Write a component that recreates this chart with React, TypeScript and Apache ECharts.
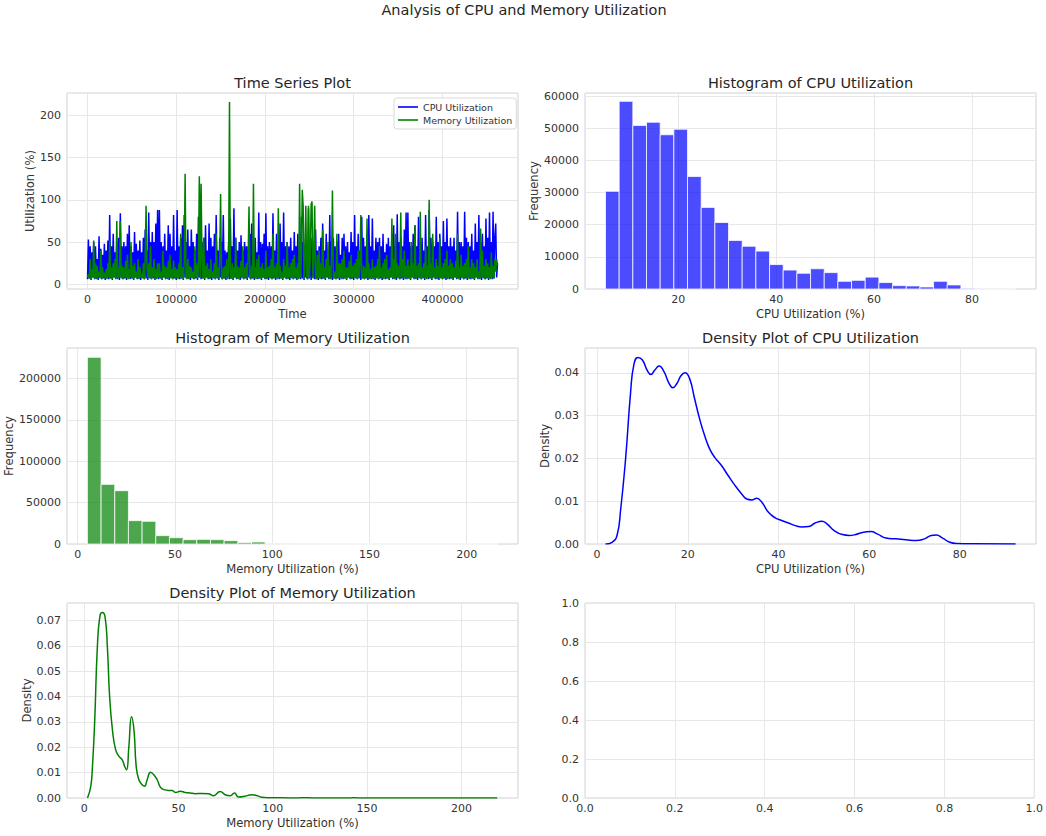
import React, { useEffect, useRef } from "react";
import * as echarts from "echarts";

// ---------- data ----------
const timeStep = 1000;

const cpuUtilization = [
  6, 53, 7, 45, 5, 38, 8, 50, 6, 45, 7, 30, 5, 57, 8, 42, 6, 35, 7, 48,
  5, 40, 8, 52, 6, 82, 7, 45, 5, 60, 8, 38, 6, 50, 7, 55, 5, 84, 8, 45,
  6, 50, 7, 45, 5, 60, 8, 70, 6, 45, 7, 38, 5, 62, 8, 48, 6, 40, 7, 52,
  5, 38, 8, 55, 6, 65, 7, 40, 5, 85, 8, 50, 6, 62, 7, 50, 5, 72, 8, 88,
  6, 88, 7, 50, 5, 45, 8, 60, 6, 40, 7, 70, 5, 60, 8, 45, 6, 82, 7, 40,
  5, 88, 8, 45, 6, 55, 7, 70, 5, 82, 8, 50, 6, 65, 7, 45, 5, 65, 8, 50,
  6, 40, 7, 60, 5, 80, 8, 45, 6, 50, 7, 55, 5, 70, 8, 40, 6, 72, 7, 55,
  5, 45, 8, 60, 6, 82, 7, 40, 5, 55, 8, 50, 6, 82, 7, 40, 5, 38, 8, 50,
  6, 78, 7, 45, 5, 90, 8, 55, 6, 40, 7, 50, 5, 58, 8, 40, 6, 50, 7, 45,
  5, 45, 8, 60, 6, 72, 7, 40, 5, 55, 8, 38, 6, 85, 7, 50, 5, 48, 8, 60,
  6, 84, 7, 45, 5, 50, 8, 45, 6, 84, 7, 40, 5, 60, 8, 38, 6, 72, 7, 50,
  5, 85, 8, 45, 6, 50, 7, 45, 5, 55, 8, 40, 6, 62, 7, 45, 5, 60, 8, 40,
  6, 80, 7, 50, 5, 35, 8, 45, 6, 90, 7, 45, 5, 55, 8, 40, 6, 65, 7, 40,
  5, 45, 8, 55, 6, 72, 7, 40, 5, 60, 8, 38, 6, 82, 7, 50, 5, 55, 8, 45,
  6, 50, 7, 60, 5, 35, 8, 55, 6, 60, 7, 45, 5, 50, 8, 38, 6, 62, 7, 50,
  5, 82, 8, 45, 6, 60, 7, 40, 5, 80, 8, 55, 6, 45, 7, 60, 5, 82, 8, 45,
  6, 78, 7, 40, 5, 55, 8, 50, 6, 55, 7, 45, 5, 60, 8, 38, 6, 48, 7, 55,
  5, 45, 8, 60, 6, 70, 7, 45, 5, 83, 8, 50, 6, 55, 7, 45, 5, 65, 8, 85,
  6, 85, 7, 50, 5, 45, 8, 60, 6, 70, 7, 45, 5, 80, 8, 50, 6, 55, 7, 40,
  5, 82, 8, 45, 6, 88, 7, 55, 5, 50, 8, 45, 6, 80, 7, 50, 5, 60, 8, 45,
  6, 75, 7, 50, 5, 78, 8, 45, 6, 55, 7, 45, 5, 55, 8, 40, 6, 86, 7, 50,
  5, 50, 8, 45, 6, 86, 7, 55, 5, 50, 8, 45, 6, 60, 7, 40, 5, 72, 8, 50,
  6, 82, 7, 50, 5, 60, 8, 45, 6, 78, 7, 55, 5, 85, 8, 50, 6, 86, 7, 55,
  72, 8, 25,
];

const memoryUtilization = [
  8, 12, 7, 30, 6, 18, 8, 52, 7, 25, 6, 22, 8, 15, 7, 40, 6, 20, 8, 14,
  7, 18, 6, 25, 8, 52, 7, 20, 6, 25, 8, 30, 7, 75, 6, 20, 8, 75, 7, 22,
  6, 20, 8, 28, 7, 35, 6, 18, 8, 50, 7, 22, 6, 25, 8, 15, 7, 30, 6, 20,
  8, 12, 7, 25, 6, 30, 93, 20, 8, 25, 7, 45, 6, 20, 8, 30, 7, 18, 6, 25,
  8, 25, 7, 15, 6, 40, 8, 22, 7, 20, 6, 28, 8, 35, 7, 18, 6, 28, 8, 20,
  7, 18, 6, 25, 8, 60, 7, 20, 6, 25, 131, 8, 7, 30, 6, 22, 8, 20, 7, 15,
  6, 45, 8, 25, 7, 20, 128, 8, 119, 30, 7, 55, 6, 22, 8, 25, 7, 18, 6, 30,
  8, 15, 7, 25, 6, 60, 8, 20, 7, 30, 107, 8, 6, 20, 7, 22, 8, 30, 6, 18,
  216, 8, 7, 25, 6, 20, 8, 55, 7, 22, 6, 20, 8, 28, 7, 45, 6, 20, 8, 25,
  7, 30, 92, 8, 6, 22, 8, 119, 7, 20, 6, 30, 8, 35, 7, 20, 6, 25, 8, 18,
  7, 40, 6, 20, 8, 22, 7, 30, 6, 60, 8, 20, 7, 25, 6, 90, 8, 22, 7, 15,
  6, 30, 8, 22, 7, 50, 6, 20, 8, 25, 7, 30, 6, 35, 8, 20, 7, 25, 6, 119,
  8, 30, 112, 93, 7, 30, 93, 8, 6, 93, 8, 30, 95, 98, 7, 30, 93, 8, 6, 35,
  7, 40, 6, 25, 8, 65, 7, 20, 6, 30, 8, 50, 7, 22, 6, 30, 111, 8, 7, 15,
  6, 60, 8, 25, 7, 25, 6, 30, 8, 40, 7, 20, 6, 20, 8, 28, 7, 35, 6, 22,
  8, 25, 7, 30, 6, 40, 8, 20, 82, 8, 7, 22, 6, 20, 8, 78, 7, 25, 6, 18,
  7, 30, 6, 20, 8, 22, 7, 30, 6, 45, 8, 20, 7, 25, 6, 30, 8, 35, 7, 18,
  6, 20, 8, 78, 7, 30, 6, 60, 8, 25, 7, 22, 6, 85, 8, 30, 7, 40, 6, 22,
  8, 30, 7, 22, 6, 50, 8, 25, 7, 70, 6, 22, 8, 25, 7, 86, 6, 20, 8, 25,
  7, 45, 6, 22, 8, 100, 7, 25, 6, 60, 8, 20, 7, 30, 6, 22, 8, 55, 7, 20,
  6, 25, 8, 30, 7, 40, 6, 22, 8, 30, 7, 25, 6, 20, 8, 28, 7, 60, 6, 20,
  8, 35, 7, 22, 6, 25, 8, 30, 7, 45, 6, 20, 8, 30, 7, 25, 6, 20, 8, 30,
  7, 15, 6, 66, 8, 40, 7, 22, 6, 30, 8, 25, 7, 20, 6, 38, 8, 22, 7, 30,
  15, 30, 22,
];

const cpuHistStart = 5.11;
const cpuHistWidth = 2.794;
const cpuHistCounts = [
  30400, 58400, 50900, 51900, 48000, 49700, 35000, 25400, 20700, 15100,
  13300, 11800, 7600, 5900, 4900, 6300, 5100, 2400, 2700, 3700,
  2000, 1050, 950, 630, 2400, 1260, 200, 40, 20, 10,
];

const memHistStart = 5.0;
const memHistWidth = 7.03;
const memHistCounts = [
  225400, 72000, 64400, 28200, 27400, 10100, 7600, 5200, 5600, 5200,
  4000, 1600, 2400, 300, 150, 100, 80, 50, 40, 30,
  20, 15, 10, 10, 5, 5, 5, 3, 2, 1,
];

const cpuDensityX = [
  1.86, 3.3, 4.4, 5.2, 6.3, 7.4, 8.1, 9.0, 10.0, 11.1, 11.9, 12.7, 13.7, 14.7, 15.9,
  16.7, 17.6, 18.5, 19.4, 20.4, 21.5, 22.6, 23.7, 24.8, 25.9, 27.4, 28.9, 30.4, 31.9,
  33.0, 34.1, 35.2, 36.3, 37.8, 39.3, 40.7, 42.2, 43.7, 45.2, 46.7, 48.1, 49.6, 50.7,
  52.2, 54.1, 55.6, 57.0, 58.5, 60.4, 61.9, 63.7, 65.9, 68.1, 70.4, 72.2, 73.7, 74.8,
  76.3, 77.8, 79.3, 83.0, 92.3,
];
const cpuDensityY = [
  0, 0.0004, 0.002, 0.008, 0.02, 0.0355, 0.0418, 0.0436, 0.043, 0.0405, 0.0396, 0.0406,
  0.0416, 0.0404, 0.0375, 0.0365, 0.0375, 0.0393, 0.04, 0.0387, 0.034, 0.0293, 0.0254,
  0.0223, 0.0203, 0.0184, 0.016, 0.0137, 0.0117, 0.0105, 0.0103, 0.0107, 0.0098, 0.0074,
  0.0061, 0.0055, 0.0049, 0.0043, 0.004, 0.0041, 0.0049, 0.0053, 0.0047, 0.0032, 0.0022,
  0.002, 0.0022, 0.0027, 0.0029, 0.0023, 0.0014, 0.0012, 0.001, 0.0008, 0.0012, 0.002,
  0.0021, 0.0013, 0.0004, 0.0001, 0.00003, 0,
];

const memDensityX = [
  1.76, 3.5, 4.4, 5.6, 7.0, 8.4, 9.7, 11.1, 12.3, 13.5, 15.0, 16.7, 18.5, 20.2, 21.6,
  22.5, 23.7, 25.1, 26.4, 27.6, 29.0, 30.8, 32.0, 33.4, 35.2, 36.9, 38.7, 40.4, 42.2,
  44.8, 46.6, 48.4, 51.0, 53.6, 56.3, 58.9, 62.4, 65.9, 68.6, 72.1, 74.7, 77.4, 79.7,
  81.8, 85.3, 88.8, 91.4, 94.1, 97.6, 105, 113, 117, 121, 135, 141.5, 143, 145, 160,
  190, 219,
];
const memDensityY = [
  0, 0.0046, 0.0124, 0.0308, 0.0596, 0.072, 0.0732, 0.0713, 0.0596, 0.04, 0.0268, 0.019,
  0.0164, 0.015, 0.0122, 0.0111, 0.0203, 0.032, 0.0268, 0.0124, 0.0072, 0.0052, 0.0046,
  0.0072, 0.0102, 0.0092, 0.0072, 0.0043, 0.0033, 0.003, 0.003, 0.0022, 0.0027, 0.0022,
  0.002, 0.0017, 0.0018, 0.0017, 0.0009, 0.0026, 0.0013, 0.0009, 0.002, 0.0004, 0.0007,
  0.0013, 0.001, 0.0003, 0.0001, 0.00005, 0.00003, 0.0001, 0.00003, 0.00002, 0.00002,
  0.0001, 0.00002, 0.00001, 0.00001, 0,
];

// ---------- styling ----------
const FONT = "DejaVu Sans";
const TXT = "#333333";
const TITLE = "#262626";
const GRIDLINE = "#e7e7e7";
const BORDER = "#d3d3d3";
const BLUE = "#0000ff";
const GREEN = "#008000";

const grids = [
  { left: 67, top: 93, width: 451, height: 196 },
  { left: 585, top: 93, width: 451, height: 196 },
  { left: 67, top: 348, width: 451, height: 196 },
  { left: 585, top: 348, width: 451, height: 196 },
  { left: 67, top: 603, width: 451, height: 195 },
  { left: 585, top: 603, width: 451, height: 195 },
];

const plain = (v: number) => String(v);

function axis(
  gridIndex: number,
  min: number,
  max: number,
  o: {
    name?: string;
    nameGap?: number;
    interval?: number;
    fmt?: (v: number) => string;
    showMin?: boolean;
    showMax?: boolean;
    vertical?: boolean;
  }
) {
  const a: any = {
    type: "value",
    gridIndex,
    min,
    max,
    axisLine: { show: false },
    axisTick: { show: false },
    splitLine: { show: true, lineStyle: { color: GRIDLINE, width: 1 } },
    axisLabel: {
      color: TXT,
      fontSize: 11,
      fontFamily: FONT,
      margin: o.vertical ? 6 : 5,
      showMinLabel: !!o.showMin,
      showMaxLabel: !!o.showMax,
      formatter: o.fmt || plain,
    },
  };
  if (o.interval !== undefined) a.interval = o.interval;
  if (o.name) {
    a.name = o.name;
    a.nameLocation = "middle";
    a.nameGap = o.nameGap;
    a.nameTextStyle = { color: TXT, fontSize: 11.6, fontFamily: FONT };
  }
  return a;
}

function histData(start: number, width: number, counts: number[]) {
  return counts.map((c, i) => [start + i * width, start + (i + 1) * width, c]);
}

function histSeries(idx: number, data: number[][], fill: string) {
  return {
    type: "custom",
    xAxisIndex: idx,
    yAxisIndex: idx,
    encode: { x: [0, 1], y: 2 },
    data,
    renderItem: (_p: any, api: any) => {
      const a = api.coord([api.value(0), api.value(2)]);
      const b = api.coord([api.value(1), 0]);
      return {
        type: "rect",
        shape: { x: a[0], y: a[1], width: b[0] - a[0], height: b[1] - a[1] },
        style: { fill, stroke: "rgba(255,255,255,0.75)", lineWidth: 1 },
      };
    },
  };
}

function subTitle(text: string, g: any) {
  return {
    text,
    left: g.left + g.width / 2,
    top: g.top - 17.5,
    textAlign: "center",
    padding: 0,
    textStyle: { color: TITLE, fontSize: 14.5, fontWeight: "normal", fontFamily: FONT },
  };
}

export default function App() {
  const ref = useRef<HTMLDivElement>(null);

  useEffect(() => {
    if (!ref.current) return;
    const chart = echarts.init(ref.current, undefined, { renderer: "svg" });

    const times = cpuUtilization.map((_, i) => i * timeStep);
    const cpuLine = cpuUtilization.map((v, i) => [times[i], v]);
    const memLine = memoryUtilization.map((v, i) => [times[i], v]);
    const cpuDens = cpuDensityX.map((x, i) => [x, cpuDensityY[i]]);
    const memDens = memDensityX.map((x, i) => [x, memDensityY[i]]);

    const option: any = {
      animation: false,
      backgroundColor: "#ffffff",
      textStyle: { fontFamily: FONT },
      title: [
        {
          text: "Analysis of CPU and Memory Utilization",
          left: 524,
          top: 2,
          textAlign: "center",
          padding: 0,
          textStyle: { color: TITLE, fontSize: 14.5, fontWeight: "normal", fontFamily: FONT },
        },
        subTitle("Time Series Plot", grids[0]),
        subTitle("Histogram of CPU Utilization", grids[1]),
        subTitle("Histogram of Memory Utilization", grids[2]),
        subTitle("Density Plot of CPU Utilization", grids[3]),
        subTitle("Density Plot of Memory Utilization", grids[4]),
      ],
      legend: {
        left: 394,
        top: 98,
        orient: "vertical",
        padding: [4, 4, 4, 4],
        itemGap: 3,
        itemWidth: 20,
        itemHeight: 1.6,
        backgroundColor: "#ffffff",
        borderColor: "#d9d9d9",
        borderWidth: 1,
        borderRadius: 3,
        textStyle: { color: TXT, fontSize: 9.5, fontFamily: FONT },
        data: [
          { name: "CPU Utilization", icon: "rect" },
          { name: "Memory Utilization", icon: "rect" },
        ],
      },
      grid: grids.map((g) => ({
        ...g,
        show: true,
        borderColor: BORDER,
        borderWidth: 1,
        backgroundColor: "transparent",
      })),
      xAxis: [
        axis(0, -23100, 485100, { name: "Time", nameGap: 19 }),
        axis(1, 0.92, 93.1, { name: "CPU Utilization (%)", nameGap: 19 }),
        axis(2, -5.5, 226.4, { name: "Memory Utilization (%)", nameGap: 19 }),
        axis(3, -2.66, 96.8, { name: "CPU Utilization (%)", nameGap: 19 }),
        axis(4, -9.1, 230, { name: "Memory Utilization (%)", nameGap: 19 }),
        axis(5, 0, 1, { interval: 0.2, fmt: (v) => v.toFixed(1), showMin: true, showMax: true }),
      ],
      yAxis: [
        axis(0, -5.55, 226.55, { name: "Utilization (%)", nameGap: 31, vertical: true }),
        axis(1, 0, 61000, { name: "Frequency", nameGap: 44, interval: 10000, showMin: true, vertical: true }),
        axis(2, 0, 236700, { name: "Frequency", nameGap: 52, interval: 50000, showMin: true, vertical: true }),
        axis(3, 0, 0.0458, {
          name: "Density",
          nameGap: 33,
          interval: 0.01,
          fmt: (v) => v.toFixed(2),
          showMin: true,
          vertical: true,
        }),
        axis(4, 0, 0.0769, {
          name: "Density",
          nameGap: 34,
          interval: 0.01,
          fmt: (v) => v.toFixed(2),
          showMin: true,
          vertical: true,
        }),
        axis(5, 0, 1, {
          interval: 0.2,
          fmt: (v) => v.toFixed(1),
          showMin: true,
          showMax: true,
          vertical: true,
        }),
      ],
      series: [
        {
          name: "CPU Utilization",
          type: "line",
          xAxisIndex: 0,
          yAxisIndex: 0,
          data: cpuLine,
          symbol: "none",
          color: BLUE,
          lineStyle: { color: BLUE, width: 1.5 },
        },
        {
          name: "Memory Utilization",
          type: "line",
          xAxisIndex: 0,
          yAxisIndex: 0,
          data: memLine,
          symbol: "none",
          color: GREEN,
          lineStyle: { color: GREEN, width: 1.5 },
        },
        histSeries(1, histData(cpuHistStart, cpuHistWidth, cpuHistCounts), "rgba(0,0,255,0.7)"),
        histSeries(2, histData(memHistStart, memHistWidth, memHistCounts), "rgba(0,128,0,0.7)"),
        {
          type: "line",
          xAxisIndex: 3,
          yAxisIndex: 3,
          data: cpuDens,
          symbol: "none",
          smooth: 0.5,
          lineStyle: { color: BLUE, width: 1.5 },
        },
        {
          type: "line",
          xAxisIndex: 4,
          yAxisIndex: 4,
          data: memDens,
          symbol: "none",
          smooth: 0.5,
          lineStyle: { color: GREEN, width: 1.5 },
        },
        {
          type: "line",
          xAxisIndex: 5,
          yAxisIndex: 5,
          data: [],
          symbol: "none",
        },
      ],
    };

    chart.setOption(option);
    return () => chart.dispose();
  }, []);

  return (
    <div
      ref={ref}
      style={{ position: "fixed", left: 0, top: 0, width: 1046, height: 836, background: "#fff" }}
    />
  );
}
